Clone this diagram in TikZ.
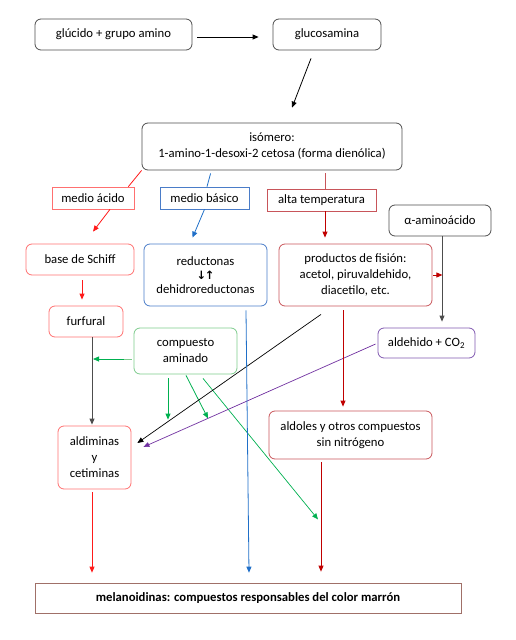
\documentclass[tikz,border=0pt]{standalone}
\usepackage{fontspec}
\setmainfont{Carlito}
\newfontfamily\symfont{DejaVu Sans}
\usetikzlibrary{arrows.meta,calc}
\definecolor{bxgray}{HTML}{4D4D4D}
\definecolor{bxred}{HTML}{FF7070}
\definecolor{arred}{HTML}{FF1A1A}
\definecolor{bxblue}{HTML}{4A7CC8}
\definecolor{arblue}{HTML}{1F6FC8}
\definecolor{bxdred}{HTML}{C8555A}
\definecolor{ardred}{HTML}{C00000}
\definecolor{bxgreen}{HTML}{7DCB8C}
\definecolor{argreen}{HTML}{00B050}
\definecolor{bxpurple}{HTML}{8058B0}
\definecolor{arpurple}{HTML}{7030A0}
\definecolor{bxbrown}{HTML}{A07068}
\tikzset{
  base/.style={draw, line width=0.8pt, align=center, inner sep=0pt, font=\fontsize{12.7}{16}\selectfont},
  rbox/.style={base, rounded corners=6pt},
  sbox/.style={base, line width=0.7pt},
  arr/.style={line width=0.8pt, -{Triangle[length=6pt,width=5pt]}},
  ln/.style={line width=0.8pt},
}
\begin{document}
\begin{tikzpicture}[x=1pt,y=-1pt]
\useasboundingbox (0,0) rectangle (515,640);
% nodes
\node[rbox, draw=bxgray, minimum width=157pt, minimum height=31pt] (n1) at (113.5,34.5) {glúcido + grupo amino};
\node[rbox, draw=bxgray, minimum width=108pt, minimum height=31pt] (n2) at (327,34.5) {glucosamina};
\node[rbox, draw=bxgray, minimum width=260pt, minimum height=47pt] (n3) at (272,146.5) {isómero:\\1-amino-1-desoxi-2 cetosa (forma dienólica)};
\node[sbox, draw=bxred, minimum width=82pt, minimum height=22pt] (a1) at (93,198) {medio ácido};
\node[sbox, draw=bxblue, minimum width=89pt, minimum height=22pt] (a2) at (204.5,198) {medio básico};
\node[sbox, draw=bxdred, minimum width=109pt, minimum height=22pt] (a3) at (321.5,200) {alta temperatura};
\node[rbox, draw=bxgray, minimum width=102pt, minimum height=31pt] (n4) at (440,220.5) {α-aminoácido};
\node[rbox, draw=bxblue, minimum width=123pt, minimum height=62pt] (n6) at (205.5,275) {reductonas\\[-2pt]{\symfont\bfseries\fontsize{11.5}{12}\selectfont ↓\kern-1.5pt↑}\\[-2pt]dehidroreductonas};
\node[rbox, draw=bxred, minimum width=108pt, minimum height=31pt] (n5) at (80,259.5) {base de Schiff};
\node[rbox, draw=bxdred, minimum width=153pt, minimum height=62pt] (n7) at (355.5,275) {productos de fisión:\\acetol, piruvaldehido,\\diacetilo, etc.};
\node[rbox, draw=bxred, minimum width=74pt, minimum height=31pt] (n8) at (86,321.5) {furfural};
\node[rbox, draw=bxgreen, minimum width=103pt, minimum height=46pt] (n9) at (185.5,351) {compuesto\\aminado};
\node[rbox, draw=bxpurple, minimum width=97pt, minimum height=30pt] (n10) at (426.5,343) {aldehido + CO\textsubscript{2}};
\node[rbox, draw=bxdred, minimum width=163pt, minimum height=48pt] (n11) at (350.5,435) {aldoles y otros compuestos\\sin nitrógeno};
\node[rbox, draw=bxred, minimum width=73pt, minimum height=63pt] (n12) at (94.5,457.5) {aldiminas\\y\\cetiminas};
\node[sbox, draw=bxbrown, minimum width=426pt, minimum height=30pt, font=\fontsize{12.7}{14}\selectfont\bfseries] (n13) at (248,598) {melanoidinas: compuestos responsables del color marrón};
% connectors
\draw[arr] ($(n1.east)+(5,2.5)$) -- ($(n2.west)+(-14,2.5)$);
\draw[arr] ($(n2.south)+(-16,8)$) -- ($(n3.north)+(20,-15)$);
\draw[ln, arred] (n3.south west) -- ($(a1.north east)+(-6,0)$);
\draw[arr, arred] ($(a1.south)+(17,0)$) -- ($(n5.north)+(13,-12)$);
\draw[ln, arblue] ($(n3.south west)+(69,3)$) -- ($(a2.north)+(2.5,0)$);
\draw[arr, arblue] (a2.south) -- ($(n6.north)+(-13,-6)$);
\draw[ln, bxdred] ($(n3.south)+(53,3)$) -- ($(a3.north)+(3.5,0)$);
\draw[arr, ardred] ($(a3.south)+(3.5,0)$) -- ($(n7.north)+(-30.5,-6)$);
\draw[arr, bxgray] ($(n4.south)+(2,0)$) -- ($(n10.north)+(15.5,-6)$);
\coordinate (j1) at ($(n7.east)+(10,0)$);
\draw[arr, ardred, shorten <=1pt] (n7.east) -- (j1);
\draw[arr, arred] ($(n5.south)+(2,5)$) -- ($(n8.north)+(-4,-6)$);
\draw[arr, bxgray] ($(n8.south)+(6,0)$) -- ($(n12.north)+(-2.5,-1)$);
\coordinate (j2) at (93,359);
\draw[ln, bxgreen] ($(n9.west)+(-2,8)$) -- ($(j2)+(6,0)$);
\draw[arr, argreen] ($(n9.west)+(-10,8)$) -- (j2);
\draw[arr, argreen] ($(n9.south)+(-17.5,4)$) -- ($(n12.north)+(73.5,-6)$);
\draw[arr, argreen] ($(n9.south)+(0.5,1)$) -- ($(n9.south)+(22.5,44)$);
\draw[arr, argreen, line width=0.7pt] ($(n9.south)+(17.5,4)$) -- ($(n11.south)+(-32.5,60)$);
\draw[arr, black, line width=0.7pt] ($(n7.south)+(-34.5,8)$) -- ($(n12.east)+(6,-14.5)$);
\draw[arr, arpurple, line width=0.7pt] ($(n10.west)+(-2,1)$) -- ($(n12.east)+(12,-10.5)$);
\draw[arr, arblue] ($(n6.south)+(40.5,4)$) -- ($(n13.north)+(1,-10)$);
\draw[arr, ardred] ($(n7.south)+(-12.5,4)$) -- ($(n11.north)+(-7.5,-4)$);
\draw[arr, ardred] ($(n11.south)+(-29.5,3)$) -- ($(n13.north)+(73,-11)$);
\draw[arr, arred] ($(n12.south)+(-2.5,3)$) -- ($(n13.north)+(-156,-10)$);
\end{tikzpicture}
\end{document}
